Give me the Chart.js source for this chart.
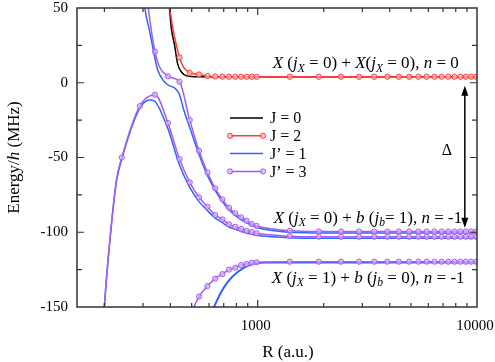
<!DOCTYPE html>
<html>
<head>
<meta charset="utf-8">
<script src="https://cdn.jsdelivr.net/npm/chart.js@4.4.1/dist/chart.umd.min.js"></script>
<style>
  html, body { margin: 0; padding: 0; background: #fff; }
</style>
</head>
<body>
<canvas id="energyChart" width="495" height="362"></canvas>
<script>
// axis ranges and ticks
const X_MIN = 150, X_MAX = 10000;
const Y_MIN = -150, Y_MAX = 50;
const X_LABELS = [1000, 10000];
const X_MAJOR = [1000];
const X_MINOR = [200, 300, 400, 500, 600, 700, 800, 900, 2000, 3000, 4000, 5000, 6000, 7000, 8000, 9000];
const Y_MAJOR = [0, -50, -100];
const Y_MINOR = [25, -25, -75, -125];

// R values that carry a marker
const MARK_R = [240, 290, 340, 390, 440, 490, 540, 590, 640, 690, 740, 790, 840, 890, 940, 990,
  1400, 1900, 2400, 2900, 3400, 3900, 4400, 4900, 5400, 5900, 6400, 6900, 7400, 7900, 8400, 8900, 9400, 9900];

// J = 0 (black)
const R_J0 = [385, 396, 405, 418, 431, 450, 474, 515, 600, 1000, 10000];
const E_J0 = [75, 50, 35, 25, 13, 7, 4.6, 4.05, 4, 4, 4];

// J = 2 (red)
const R_J2 = [340, 390, 440, 490, 540, 590, 640, 690, 740, 790, 840, 890, 940, 990,
  1400, 1900, 2400, 2900, 3400, 3900, 4400, 4900, 5400, 5900, 6400, 6900, 7400, 7900, 8400, 8900, 9400, 9900];
const E_J2 = [150, 58, 17, 6.7, 5.5, 4.5, 4.2, 4.1, 4, 4, 4, 4, 4, 4,
  4, 4, 4, 4, 4, 4, 4, 4, 4, 4, 4, 4, 4, 4, 4, 4, 4, 4];

// J' = 1 (blue), three branches
const R_J1A = [290, 306, 321, 339, 350, 370, 390, 410, 425, 440, 460, 490, 540, 590, 640, 690, 740, 790, 840, 890, 940, 990, 1200, 1400, 2000, 10000];
const E_J1A = [90, 50, 35, 17.4, 8.5, 1.8, -1.5, -2.8, -4.5, -8, -18, -30, -48, -62, -72, -79.5, -85, -88.8, -91.5, -93.7, -95.5, -96.8, -99, -100, -100.5, -100.5];
const R_J1B = [190, 200, 212, 227, 240, 290, 323, 340, 390, 440, 490, 540, 590, 640, 690, 740, 790, 840, 890, 940, 990, 1400, 2000, 10000];
const E_J1B = [-215, -150, -105, -66, -51, -17, -11.5, -12.5, -31, -55, -70, -79.5, -85.5, -90.5, -93.5, -96.5, -98, -99.5, -100.5, -101.3, -102, -103.6, -104, -104];
const R_J1C = [600, 632, 683, 732, 813, 936, 1100, 1400, 10000];
const E_J1C = [-158, -150, -139.8, -133, -126.4, -121.5, -120.3, -120.2, -120.2];

// J' = 3 (purple), three branches
const R_J3A = [290, 340, 390, 440, 490, 540, 590, 640, 690, 740, 790, 840, 890, 940, 990,
  1400, 1900, 2400, 2900, 3400, 3900, 4400, 4900, 5400, 5900, 6400, 6900, 7400, 7900, 8400, 8900, 9400, 9900];
const E_J3A = [95, 20.8, 4.3, 0.7, -25, -45.5, -60, -70.6, -78, -83.6, -87.3, -90, -92.3, -94.5, -95.8,
  -99, -99.5, -99.5, -99.5, -99.5, -99.5, -99.5, -99.5, -99.5, -99.5, -99.5, -99.5, -99.5, -99.5, -99.5, -99.5, -99.5, -99.5];
const R_J3B = [190, 200, 212, 227, 240, 290, 340, 390, 440, 490, 540, 590, 640, 690, 740, 790, 840, 890, 940, 990,
  1400, 1900, 2400, 2900, 3400, 3900, 4400, 4900, 5400, 5900, 6400, 6900, 7400, 7900, 8400, 8900, 9400, 9900];
const E_J3B = [-215, -150, -105, -65, -50, -15.6, -8, -27, -51, -66.6, -76.6, -82.9, -88.5, -91.4, -94.7, -96.3, -97.8, -99, -99.8, -100.7,
  -102.6, -103, -103, -103, -103, -103, -103, -103, -103, -103, -103, -103, -103, -103, -103, -103, -103, -103];
const R_J3C = [490, 540, 590, 640, 690, 740, 790, 840, 890, 940, 990,
  1400, 1900, 2400, 2900, 3400, 3900, 4400, 4900, 5400, 5900, 6400, 6900, 7400, 7900, 8400, 8900, 9400, 9900];
const E_J3C = [-156, -143, -136, -131, -128, -125, -123.7, -122, -121.2, -120.4, -120.1,
  -119.7, -119.7, -119.7, -119.7, -119.7, -119.7, -119.7, -119.7, -119.7, -119.7, -119.7, -119.7, -119.7, -119.7, -119.7, -119.7, -119.7, -119.7];

// legend
const LEGEND_LABELS = ['J = 0', 'J = 2', 'J\u2019 = 1', 'J\u2019 = 3'];
const COLORS = { j0: '#000000', j2: '#ff3a3a', j1: '#2f62ff', j3: '#a45cf2' };

// annotation labels: [text, kind]  r = roman, i = italic, s = italic subscript
const ANNOT_R = [1171, 1183, 1159];
const ANNOT_E = [14, -89.6, -129.7];
const ANNOT_TEXT = [
  [['X', 'i'], [' (', 'r'], ['j', 'i'], ['X', 's'], [' = 0) + ', 'r'], ['X', 'i'], ['(', 'r'], ['j', 'i'], ['X', 's'], [' = 0), ', 'r'], ['n', 'i'], [' = 0', 'r']],
  [['X', 'i'], [' (', 'r'], ['j', 'i'], ['X', 's'], [' = 0) + ', 'r'], ['b', 'i'], [' (', 'r'], ['j', 'i'], ['b', 's'], ['= 1), ', 'r'], ['n', 'i'], [' = -1', 'r']],
  [['X', 'i'], [' (', 'r'], ['j', 'i'], ['X', 's'], [' = 1) + ', 'r'], ['b', 'i'], [' (', 'r'], ['j', 'i'], ['b', 's'], [' = 0), ', 'r'], ['n', 'i'], [' = -1', 'r']]
];

// delta arrow
const DELTA_R = 8800;
const DELTA_E = [-2, -97];

const FONT = '"Liberation Serif", "Times New Roman", serif';

function toXY(R, E) {
  return R.map((r, i) => ({ x: r, y: E[i] }));
}

function markerRadius(ctx) {
  return ctx.raw && MARK_R.indexOf(ctx.raw.x) >= 0 ? 2.6 : 0;
}

function curve(label, R, E, color, withMarkers, fill, width) {
  return {
    label: label,
    data: toXY(R, E),
    borderColor: color,
    backgroundColor: fill,
    borderWidth: width || 1.5,
    pointRadius: withMarkers ? markerRadius : 0,
    pointBorderWidth: 1,
    pointBorderColor: color,
    pointBackgroundColor: fill,
    cubicInterpolationMode: 'monotone',
    fill: false
  };
}

function drawRich(ctx, parts, x0, y0, size, align) {
  let w = 0;
  parts.forEach(([t, k]) => {
    const s = k === 's' ? size * 0.68 : size;
    ctx.font = (k === 'r' ? '' : 'italic ') + s + 'px ' + FONT;
    w += ctx.measureText(t).width;
  });
  let x = align === 'center' ? x0 - w / 2 : x0;
  ctx.textAlign = 'left';
  ctx.textBaseline = 'alphabetic';
  parts.forEach(([t, k]) => {
    const s = k === 's' ? size * 0.68 : size;
    ctx.font = (k === 'r' ? '' : 'italic ') + s + 'px ' + FONT;
    ctx.fillText(t, x, k === 's' ? y0 + size * 0.22 : y0);
    x += ctx.measureText(t).width;
  });
}

const decorations = {
  id: 'decorations',
  afterDraw(chart) {
    const ctx = chart.ctx;
    const a = chart.chartArea;
    const xs = chart.scales.x, ys = chart.scales.y;
    ctx.save();

    // frame
    ctx.strokeStyle = '#333';
    ctx.lineWidth = 1.5;
    ctx.strokeRect(a.left, a.top, a.right - a.left, a.bottom - a.top);

    // inward ticks on all sides
    ctx.lineWidth = 1.2;
    ctx.beginPath();
    X_MINOR.concat(X_MAJOR).forEach(v => {
      const px = xs.getPixelForValue(v);
      const len = X_MAJOR.indexOf(v) >= 0 ? 7 : 4;
      ctx.moveTo(px, a.bottom); ctx.lineTo(px, a.bottom - len);
      ctx.moveTo(px, a.top); ctx.lineTo(px, a.top + len);
    });
    Y_MINOR.concat(Y_MAJOR).forEach(v => {
      const py = ys.getPixelForValue(v);
      const len = Y_MAJOR.indexOf(v) >= 0 ? 7 : 5;
      ctx.moveTo(a.left, py); ctx.lineTo(a.left + len, py);
      ctx.moveTo(a.right, py); ctx.lineTo(a.right - len, py);
    });
    ctx.stroke();

    // legend
    const lx0 = a.left + 153, lx1 = a.left + 186, ly0 = 118, lstep = 17.8;
    const legendStyle = [
      [COLORS.j0, false, '#fff'],
      [COLORS.j2, true, 'rgba(255,190,190,0.7)'],
      [COLORS.j1, false, '#fff'],
      [COLORS.j3, true, 'rgba(215,180,250,0.7)']
    ];
    LEGEND_LABELS.forEach((lab, i) => {
      const yy = ly0 + i * lstep;
      const [col, mk, fillc] = legendStyle[i];
      ctx.strokeStyle = col;
      ctx.lineWidth = 1.5;
      ctx.beginPath();
      ctx.moveTo(lx0, yy); ctx.lineTo(lx1, yy);
      ctx.stroke();
      if (mk) {
        [lx0, lx1].forEach(px => {
          ctx.beginPath();
          ctx.arc(px, yy, 2.6, 0, Math.PI * 2);
          ctx.fillStyle = fillc;
          ctx.fill();
          ctx.lineWidth = 1;
          ctx.stroke();
        });
      }
      ctx.fillStyle = '#000';
      ctx.font = '16px ' + FONT;
      ctx.textAlign = 'left';
      ctx.textBaseline = 'middle';
      ctx.fillText(lab, lx1 + 7, yy + 1);
    });

    // state labels
    ctx.fillStyle = '#000';
    ANNOT_TEXT.forEach((parts, i) => {
      const px = xs.getPixelForValue(ANNOT_R[i]);
      const py = ys.getPixelForValue(ANNOT_E[i]);
      drawRich(ctx, parts, px, py + 6, 17, 'left');
    });

    // delta arrow
    const ax = xs.getPixelForValue(DELTA_R);
    const ay0 = ys.getPixelForValue(DELTA_E[0]);
    const ay1 = ys.getPixelForValue(DELTA_E[1]);
    ctx.strokeStyle = '#000';
    ctx.fillStyle = '#000';
    ctx.lineWidth = 1.5;
    ctx.beginPath();
    ctx.moveTo(ax, ay0 + 6); ctx.lineTo(ax, ay1 - 6);
    ctx.stroke();
    ctx.beginPath();
    ctx.moveTo(ax, ay0); ctx.lineTo(ax - 3.5, ay0 + 10); ctx.lineTo(ax + 3.5, ay0 + 10); ctx.closePath();
    ctx.fill();
    ctx.beginPath();
    ctx.moveTo(ax, ay1); ctx.lineTo(ax - 3.5, ay1 - 10); ctx.lineTo(ax + 3.5, ay1 - 10); ctx.closePath();
    ctx.fill();
    ctx.font = '16px ' + FONT;
    ctx.textAlign = 'center';
    ctx.textBaseline = 'middle';
    ctx.fillText('\u0394', ax - 18, (ay0 + ay1) / 2 - 6);

    // axis titles
    ctx.save();
    ctx.translate(13, (a.top + a.bottom) / 2);
    ctx.rotate(-Math.PI / 2);
    drawRich(ctx, [['Energy/', 'r'], ['h', 'i'], [' (MHz)', 'r']], 0, 6, 17, 'center');
    ctx.restore();
    drawRich(ctx, [['R (a.u.)', 'r']], (a.left + a.right) / 2 + 11, 357, 17, 'center');

    ctx.restore();
  }
};

Chart.defaults.font.family = FONT;
Chart.defaults.color = '#000';

const TICK_FONT = { family: FONT, size: 15 };

new Chart(document.getElementById('energyChart'), {
  type: 'line',
  data: {
    datasets: [
      curve('J\u2019 = 3', R_J3A, E_J3A, COLORS.j3, true, 'rgba(215,180,250,0.7)'),
      curve('J\u2019 = 3 b', R_J3B, E_J3B, COLORS.j3, true, 'rgba(215,180,250,0.7)'),
      curve('J\u2019 = 3 c', R_J3C, E_J3C, COLORS.j3, true, 'rgba(215,180,250,0.7)'),
      curve('J = 2', R_J2, E_J2, COLORS.j2, true, 'rgba(255,190,190,0.7)'),
      curve('J\u2019 = 1', R_J1A, E_J1A, COLORS.j1, false, COLORS.j1),
      curve('J\u2019 = 1 b', R_J1B, E_J1B, COLORS.j1, false, COLORS.j1),
      curve('J\u2019 = 1 c', R_J1C, E_J1C, COLORS.j1, false, COLORS.j1, 2),
      curve('J = 0', R_J0, E_J0, COLORS.j0, false, COLORS.j0)
    ]
  },
  options: {
    responsive: false,
    animation: false,
    devicePixelRatio: 1,
    layout: { padding: { top: 8, right: 18, left: 0, bottom: 0 } },
    plugins: {
      legend: { display: false },
      tooltip: { enabled: false }
    },
    scales: {
      x: {
        type: 'logarithmic',
        min: X_MIN,
        max: X_MAX,
        grid: { display: false, drawTicks: false },
        border: { display: false },
        ticks: {
          autoSkip: false,
          maxRotation: 0,
          padding: 10,
          labelOffset: -2,
          font: TICK_FONT,
          callback: function (v) { return X_LABELS.indexOf(v) >= 0 ? String(v) : ''; }
        },
        afterFit: function (s) { s.height = 55; s.paddingLeft = 0; s.paddingRight = 0; }
      },
      y: {
        min: Y_MIN,
        max: Y_MAX,
        grid: { display: false, drawTicks: false },
        border: { display: false },
        ticks: { stepSize: 50, padding: 9, font: TICK_FONT },
        afterFit: function (s) { s.width = 77; s.paddingTop = 0; s.paddingBottom = 0; }
      }
    }
  },
  plugins: [decorations]
});
</script>
</body>
</html>
